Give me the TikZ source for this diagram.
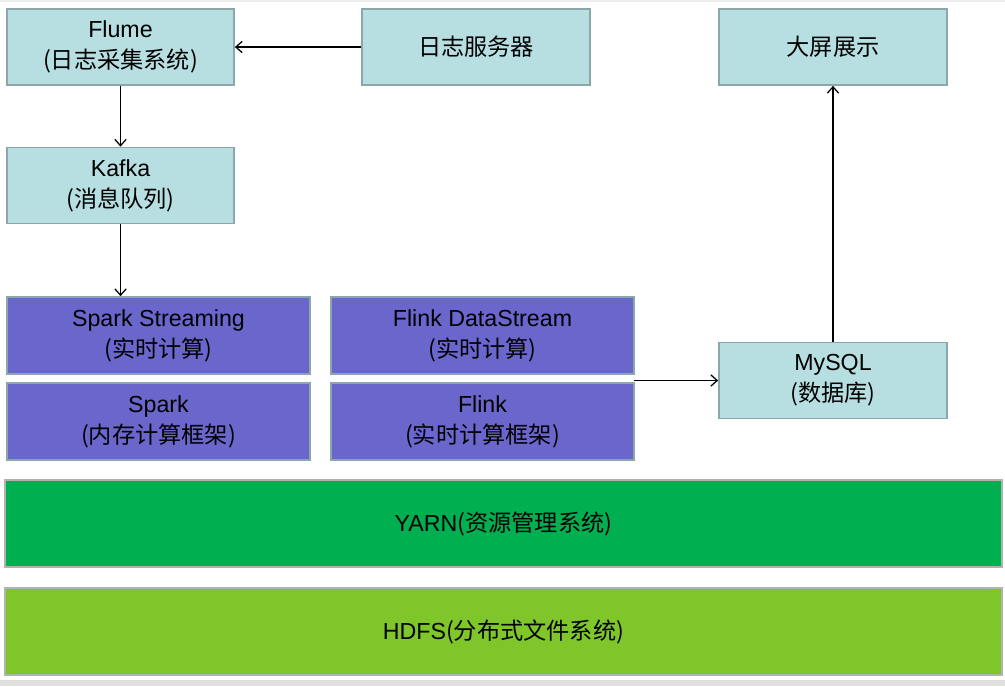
\documentclass[tikz,border=0pt]{standalone}
\usepackage{fontspec}
\usetikzlibrary{arrows.meta}
\setmainfont{Liberation Sans}
\newfontfamily\cjk{Noto Sans CJK SC}
\definecolor{boxcyan}{HTML}{B7DEE1}
\definecolor{boxedge}{HTML}{8CA7A9}
\definecolor{boxpurple}{HTML}{6A66CC}
\definecolor{yarngreen}{HTML}{00B050}
\definecolor{hdfsgreen}{HTML}{7EC62A}
\tikzset{
	cyanbox/.style={draw=boxedge, fill=boxcyan, line width=1.2pt, align=center, minimum height=1.9cm, inner sep=0pt},
	purplebox/.style={draw=boxedge, fill=boxpurple, line width=1.2pt, align=center, minimum width=7.575cm, minimum height=1.925cm, inner sep=0pt},
	layerbox/.style={draw=gray!60, line width=1pt, minimum width=24.925cm, minimum height=2.175cm, inner sep=0pt}
}
\begin{document}
\begin{tikzpicture}[x=0.025cm, y=-0.025cm, font=\fontsize{16.5}{22}\selectfont, >={Straight Barb[length=4.5pt,width=8pt]}, line width=0.9pt]
		\useasboundingbox (0,0) rectangle (1005,686);
		\fill[gray!15] (0,0) rectangle (1005,2);
		\fill[gray!25] (0,680) rectangle (1005,686);
		% top row
		\node[cyanbox, minimum width=5.675cm] (flume) at (120.5,47) {Flume\\{\cjk (日志采集系统)}};
		\node[cyanbox, minimum width=5.7cm] (logsrv) at (476,47) {\cjk 日志服务器};
		\node[cyanbox, minimum width=5.7cm] (screen) at (833,47) {\cjk 大屏展示};
		\node[cyanbox, minimum width=5.675cm] (kafka) at (120.5,185.5) {Kafka\\{\cjk (消息队列)}};
		% compute
		\node[purplebox] (ss) at (158.5,335.5) {Spark Streaming\\{\cjk (实时计算)}};
		\node[purplebox] (fds) at (482.5,335.5) {Flink DataStream\\{\cjk (实时计算)}};
		\node[purplebox] (spark) at (158.5,421.5) {Spark\\{\cjk (内存计算框架)}};
		\node[purplebox] (flink) at (482.5,421.5) {Flink\\{\cjk (实时计算框架)}};
		\node[cyanbox, minimum width=5.7cm] (mysql) at (833,380.5) {MySQL\\{\cjk (数据库)}};
		\coordinate (flinkout) at (634,380.5);
		% layers
		\node[layerbox, fill=yarngreen] (yarn) at (503.5,523.5) {YARN{\cjk (资源管理系统)}};
		\node[layerbox, fill=hdfsgreen] (hdfs) at (503.5,631.5) {HDFS{\cjk (分布式文件系统)}};
		% arrows
		\draw[->] (logsrv) -- (flume);
		\draw[->] (flume) -- (kafka);
		\draw[->] (kafka.south) -- (kafka.south |- ss.north);
		\draw[->] (flinkout) -- (mysql);
		\draw[->] (mysql) -- (screen);
\end{tikzpicture}
\end{document}
